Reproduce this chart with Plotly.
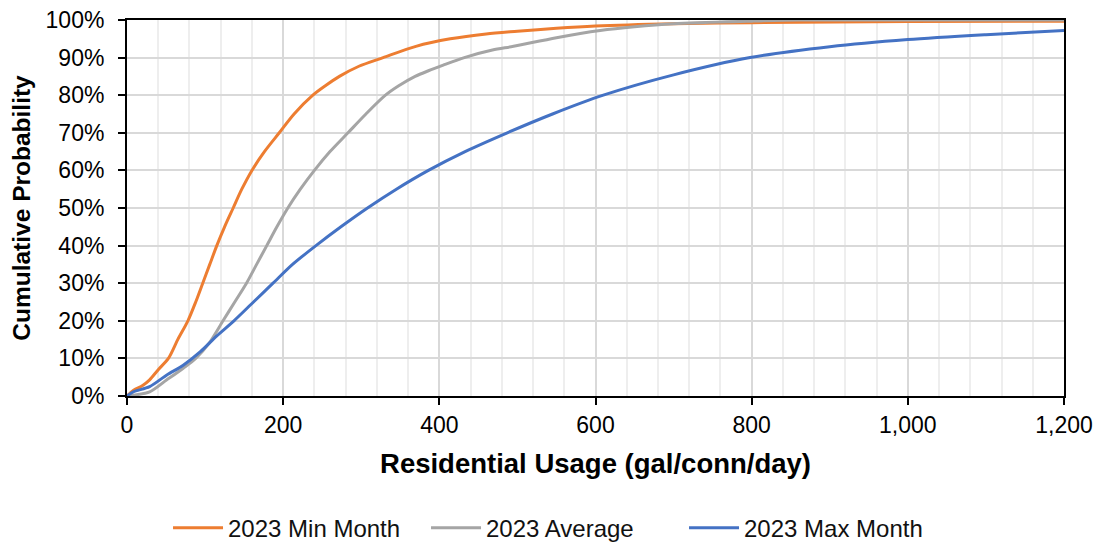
import plotly.graph_objects as go

# Data (x: gal/conn/day, y: cumulative %)
min_x = [0, 8, 20, 29, 40, 53, 65, 78, 88, 97, 106, 115, 125, 136, 147, 160, 176, 195, 214, 238, 254, 272, 297, 328, 370, 414, 460, 500, 550, 600, 700, 800, 1000, 1200]
min_y = [0, 1.5, 2.8, 4.3, 7, 10, 15, 20, 25, 30, 35, 40, 45, 50, 55, 60, 65, 70, 75, 80, 82.5, 85, 87.7, 90, 93, 95, 96.3, 97, 97.8, 98.4, 99, 99.3, 99.6, 99.7]

avg_x = [0, 29, 51, 72, 88, 105, 123, 138, 153, 166, 179, 192, 206, 222, 240, 260, 283, 306, 331, 348, 369, 386, 405, 432, 468, 495, 550, 606, 650, 700, 800, 862, 1000, 1200]
avg_y = [0, 1.1, 4.3, 7.4, 10, 14, 20, 25, 30, 35, 40, 45, 50, 55, 60, 65, 70, 75, 80, 82.5, 85, 86.5, 88, 90, 92, 93, 95.3, 97.2, 98.2, 99, 99.7, 100, 100, 100]

max_x = [0, 8, 29, 51, 72, 94, 115, 137, 162, 187, 212, 242, 274, 308, 345, 386, 433, 487, 545, 610, 700, 798, 900, 1000, 1100, 1200]
max_y = [0, 1.1, 2.5, 5.6, 8.2, 11.8, 16, 20, 25, 30, 35, 40, 45, 50, 55, 60, 65, 70, 75, 80, 85.4, 90, 92.9, 94.8, 96.1, 97.2]

series_names = ["2023 Min Month", "2023 Average", "2023 Max Month"]
series_colors = ["#ED7D31", "#A5A5A5", "#4472C4"]

fig = go.Figure()
for name, xs, ys, col in zip(series_names, [min_x, avg_x, max_x], [min_y, avg_y, max_y], series_colors):
    fig.add_trace(go.Scatter(
        x=xs, y=[v / 100 for v in ys], mode="lines", name=name,
        line=dict(color=col, width=3, shape="spline", smoothing=0.8),
    ))

font_family = "Liberation Sans, Arial, sans-serif"

# page has an 8px body margin, so the figure is sized to 1093x534
fig.update_layout(
    width=1093, height=534,
    margin=dict(l=119, r=37, t=12, b=146),
    paper_bgcolor="white", plot_bgcolor="white",
    font=dict(family=font_family, size=22, color="black"),
    showlegend=True,
    legend=dict(orientation="h", x=0.4568, xanchor="center",
                yref="container", y=0.026, yanchor="middle",
                font=dict(size=24, color="#111"), tracegroupgap=0,
                itemwidth=50, entrywidth=193, entrywidthmode="pixels"),
)

fig.update_xaxes(
    range=[0, 1200], dtick=200, tickformat=",",
    showgrid=True, gridcolor="#D9D9D9", gridwidth=1.5,
    minor=dict(dtick=40, showgrid=True, gridcolor="#EEEEEE", gridwidth=1.5),
    showline=True, linecolor="black", linewidth=2, mirror=True,
    ticks="outside", ticklen=7, tickcolor="black", tickwidth=1.5,
    tickfont=dict(size=23), ticklabeloverflow="allow",
    zeroline=False, automargin=False,
    title=dict(text="<b>Residential Usage (gal/conn/day)</b>", font=dict(size=27.5), standoff=17),
)
fig.update_yaxes(
    range=[0, 1], dtick=0.1, tickformat=".0%",
    showgrid=True, gridcolor="#D9D9D9", gridwidth=1.5,
    showline=True, linecolor="black", linewidth=2, mirror=True,
    ticks="outside", ticklen=7, tickcolor="black", tickwidth=1.5,
    tickfont=dict(size=23), ticklabelstandoff=9, ticklabeloverflow="allow",
    zeroline=False, automargin=False,
    title=dict(text="<b>Cumulative Probability</b>", font=dict(size=24.5), standoff=10),
)

fig.write_html("out.html")
